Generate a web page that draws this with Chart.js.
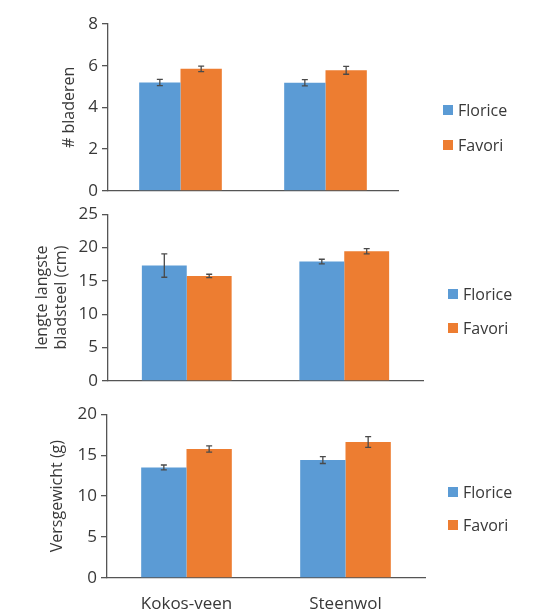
<!DOCTYPE html>
<html>
<head>
<meta charset="utf-8">
<script src="https://cdn.jsdelivr.net/npm/chart.js@4.4.1/dist/chart.umd.min.js"></script>
<style>
  body { margin: 0; background: #fff; }
  .panel { position: absolute; left: 0; }
</style>
</head>
<body>
<canvas id="chart1" class="panel" width="536" height="205" style="top:0px"></canvas>
<canvas id="chart2" class="panel" width="536" height="200" style="top:200px"></canvas>
<canvas id="chart3" class="panel" width="536" height="212" style="top:400px"></canvas>
<script>
// data
var categories = ["Kokos-veen", "Steenwol"];
var seriesNames = ["Florice", "Favori"];
var seriesColors = ["#5B9BD5", "#ED7D31"];

var bladerenFlorice = [5.19, 5.18];
var bladerenFavori = [5.85, 5.78];
var bladerenFloriceErr = [0.15, 0.15];
var bladerenFavoriErr = [0.13, 0.19];

var bladsteelFlorice = [17.3, 17.9];
var bladsteelFavori = [15.75, 19.45];
var bladsteelFloriceErr = [1.75, 0.35];
var bladsteelFavoriErr = [0.25, 0.4];

var gewichtFlorice = [13.5, 14.4];
var gewichtFavori = [15.75, 16.6];
var gewichtFloriceErr = [0.3, 0.42];
var gewichtFavoriErr = [0.38, 0.65];

var textColor = "#383838";
var axisColor = "#555555";

Chart.defaults.font.family = "'Open Sans', sans-serif";
Chart.defaults.font.size = 15;
Chart.defaults.color = textColor;

// error bars drawn from the errors array on each dataset
var errorBars = {
  id: "errorBars",
  afterDatasetsDraw: function(chart) {
    var ctx = chart.ctx;
    var yScale = chart.scales.y;
    ctx.save();
    ctx.strokeStyle = "#4a4a4a";
    ctx.lineWidth = 1.3;
    chart.data.datasets.forEach(function(ds, i) {
      var meta = chart.getDatasetMeta(i);
      meta.data.forEach(function(bar, j) {
        var v = ds.data[j], e = ds.errors[j];
        var top = yScale.getPixelForValue(v + e);
        var bot = yScale.getPixelForValue(v - e);
        ctx.beginPath();
        ctx.moveTo(bar.x, top); ctx.lineTo(bar.x, bot);
        ctx.moveTo(bar.x - 3, top); ctx.lineTo(bar.x + 3, top);
        ctx.moveTo(bar.x - 3, bot); ctx.lineTo(bar.x + 3, bot);
        ctx.stroke();
      });
    });
    ctx.restore();
  }
};

// legend at a fixed spot right of the plot
var sideLegend = {
  id: "sideLegend",
  afterDraw: function(chart, args, opts) {
    var ctx = chart.ctx;
    ctx.save();
    ctx.font = "16px 'Open Sans', sans-serif";
    ctx.textBaseline = "middle";
    chart.data.datasets.forEach(function(ds, i) {
      var y = opts.y + i * opts.gap;
      ctx.fillStyle = ds.backgroundColor;
      ctx.fillRect(opts.x, y - 5, 10, 10);
      ctx.fillStyle = textColor;
      ctx.fillText(ds.label, opts.x + 15, y + 1);
    });
    ctx.restore();
  }
};

function makeChart(id, cfg) {
  var datasets = [
    { label: seriesNames[0], data: cfg.florice, errors: cfg.floriceErr, backgroundColor: seriesColors[0] },
    { label: seriesNames[1], data: cfg.favori, errors: cfg.favoriErr, backgroundColor: seriesColors[1] }
  ];
  return new Chart(document.getElementById(id), {
    type: "bar",
    data: { labels: categories, datasets: datasets },
    plugins: [errorBars, sideLegend],
    options: {
      responsive: false,
      animation: false,
      devicePixelRatio: 1,
      categoryPercentage: 0.57,
      barPercentage: 1.0,
      layout: { padding: cfg.padding },
      plugins: {
        legend: { display: false },
        tooltip: { enabled: false },
        sideLegend: cfg.legend
      },
      scales: {
        x: {
          grid: { display: true, drawOnChartArea: false, drawTicks: false },
          border: { color: axisColor, width: 1.3 },
          ticks: { display: cfg.showX, padding: 16, font: { size: 17 } },
          afterFit: function(s) { s.height = cfg.xHeight; }
        },
        y: {
          min: 0, max: cfg.max,
          ticks: { stepSize: cfg.step, padding: 4, font: { size: 17 } },
          grid: { drawOnChartArea: false, tickLength: 6, color: axisColor, lineWidth: 1.3 },
          border: { color: axisColor, width: 1.3 },
          title: { display: true, text: cfg.title, padding: 0, font: { size: 16, lineHeight: 1.2 } },
          afterFit: function(s) { s.width = cfg.yWidth; }
        }
      }
    }
  });
}

makeChart("chart1", {
  florice: bladerenFlorice, favori: bladerenFavori,
  floriceErr: bladerenFloriceErr, favoriErr: bladerenFavoriErr,
  max: 8, step: 2, title: "# bladeren",
  padding: { left: 60, right: 138, top: 24, bottom: 0 },
  yWidth: 48, xHeight: 0, showX: false,
  legend: { x: 443, y: 110, gap: 35 }
});

makeChart("chart2", {
  florice: bladsteelFlorice, favori: bladsteelFavori,
  floriceErr: bladsteelFloriceErr, favoriErr: bladsteelFavoriErr,
  max: 25, step: 5, title: ["lengte langste", "bladsteel (cm)"],
  padding: { left: 33, right: 113, top: 14, bottom: 19 },
  yWidth: 75, xHeight: 0, showX: false,
  legend: { x: 448, y: 94, gap: 34 }
});

makeChart("chart3", {
  florice: gewichtFlorice, favori: gewichtFavori,
  floriceErr: gewichtFloriceErr, favoriErr: gewichtFavoriErr,
  max: 20, step: 5, title: "Versgewicht (g)",
  padding: { left: 48, right: 111, top: 12, bottom: 0 },
  yWidth: 59, xHeight: 34, showX: true,
  legend: { x: 448, y: 92, gap: 33 }
});
</script>
</body>
</html>
